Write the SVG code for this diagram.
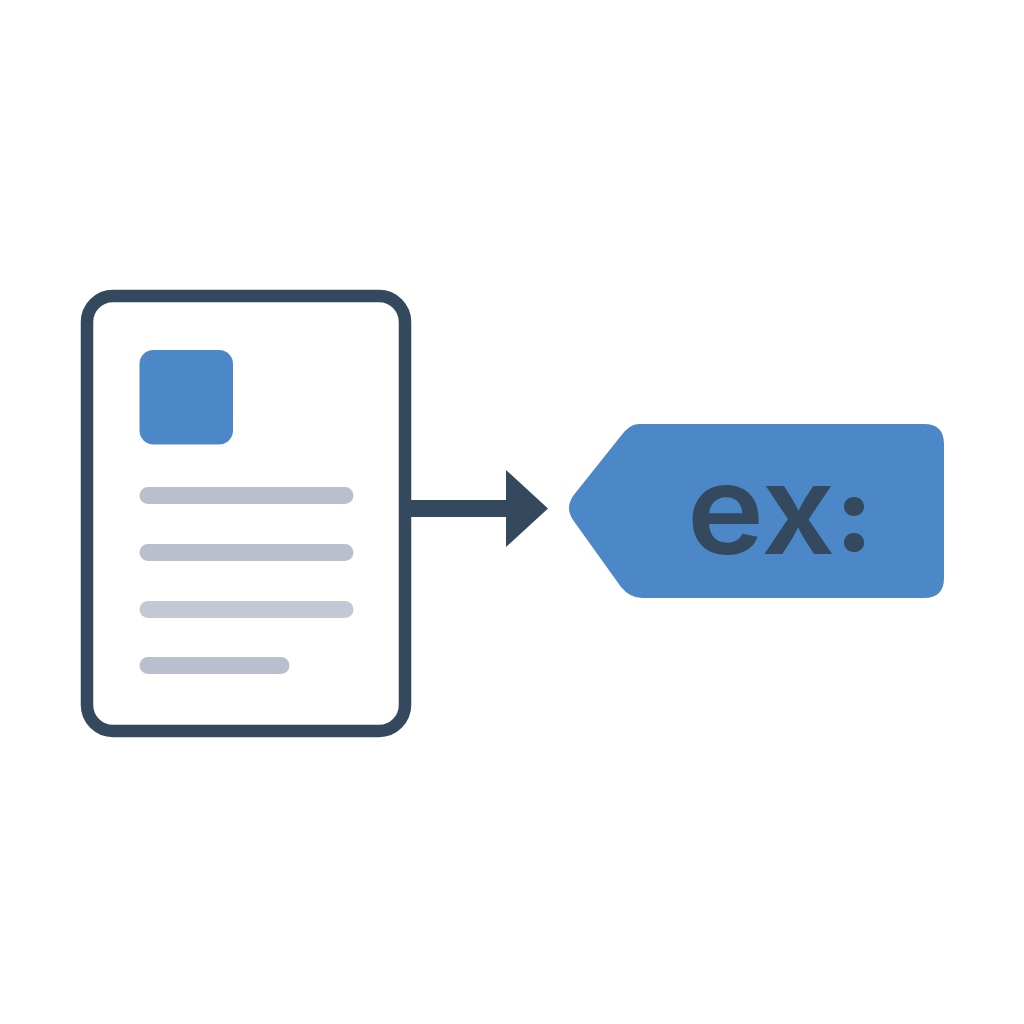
<svg xmlns="http://www.w3.org/2000/svg" width="1024" height="1024" viewBox="0 0 1024 1024">
<style>
.bar{fill:#b9bfcc}
.blue{fill:#4c88c7}
.dark{fill:#34495e}
text{font-family:"Inter","Liberation Sans",sans-serif;font-weight:600}
</style>
<rect width="1024" height="1024" fill="#ffffff"/>
<g id="document">
<rect x="87" y="296" width="318" height="435" rx="26" fill="#ffffff" stroke="#34495e" stroke-width="12.5"/>
<rect class="blue" x="139.500" y="350" width="93.500" height="94.500" rx="14"/>
<rect class="bar" x="139.500" y="487" width="214" height="17" rx="8.500"/>
<rect class="bar" x="139.500" y="544" width="214" height="17" rx="8.500"/>
<rect class="bar" x="139.500" y="601" width="214" height="17" rx="8.500" opacity="0.85"/>
<rect class="bar" x="139.500" y="657" width="150" height="17" rx="8.500"/>
</g>
<g id="connectors">
<rect class="dark" x="411" y="500" width="96" height="17"/>
<path class="dark" d="M506 470L548 508.500L506 547Z"/>
</g>
<g id="tag">
<path class="blue" d="M639 424H924Q944 424 944 444V578Q944 598 924 598H642Q630 598 621 587L573 520Q565 508 573 496L620 437Q629 424 639 424Z"/>
<text transform="translate(687 553.500) scale(1.05 1)" font-size="124" fill="#34495e">ex<tspan font-size="104" font-weight="800" dx="-0.500" dy="-3">:</tspan></text>
</g>
</svg>
